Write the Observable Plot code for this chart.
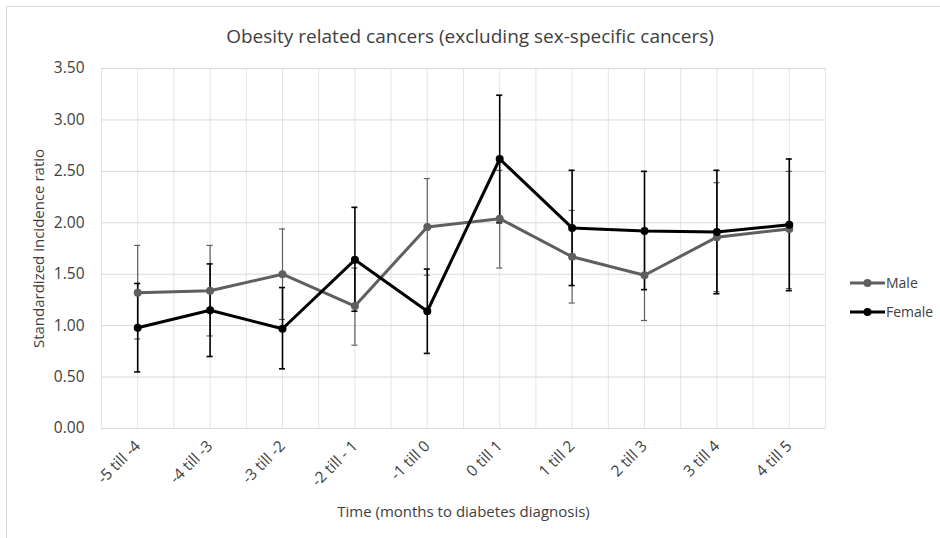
<!DOCTYPE html>
<html>
<head>
<meta charset="utf-8">
<script src="https://cdn.jsdelivr.net/npm/d3@7"></script>
<script src="https://cdn.jsdelivr.net/npm/@observablehq/plot@0.6"></script>
<style>
  html, body { margin: 0; padding: 0; background: #fff; }
  #wrap { position: relative; width: 940px; height: 538px; overflow: hidden; font-family: "Open Sans", sans-serif; }
  #frame { position: absolute; left: 6px; top: 6px; width: 960px; height: 560px; border: 1px solid #d9d9d9; box-sizing: border-box; pointer-events: none; }
  #title { position: absolute; left: 0; width: 940px; top: 23px; text-align: center; font-size: 19px; color: #404040; }
  #legend { position: absolute; left: 850px; top: 272px; font-size: 14px; color: #404040; }
  #legend .row { position: relative; height: 29px; }
  #legend svg { position: absolute; left: 0; top: 0; }
  #legend span { position: absolute; left: 36px; top: 1px; }
  #chart { position: absolute; left: 0; top: 0; }
</style>
</head>
<body>
<div id="wrap">
  <div id="frame"></div>
  <div id="chart"></div>
  <div id="title"></div>
  <div id="legend"></div>
</div>
<script>
const title = "Obesity related cancers (excluding sex-specific cancers)";
const yLabel = "Standardized incidence ratio";
const xLabel = "Time (months to diabetes diagnosis)";
const categories = ["-5 till -4", "-4 till -3", "-3 till -2", "-2 till - 1", "-1 till 0", "0 till 1", "1 till 2", "2 till 3", "3 till 4", "4 till 5"];
const seriesNames = ["Male", "Female"];
const seriesColors = ["#5f5f5f", "#000000"];
const maleSIR   = [1.32, 1.34, 1.50, 1.19, 1.96, 2.04, 1.67, 1.49, 1.86, 1.94];
const maleLower = [0.87, 0.90, 1.06, 0.81, 1.49, 1.56, 1.22, 1.05, 1.33, 1.36];
const maleUpper = [1.78, 1.78, 1.94, 1.56, 2.43, 2.51, 2.12, 1.93, 2.39, 2.50];
const femaleSIR   = [0.98, 1.15, 0.97, 1.64, 1.14, 2.62, 1.95, 1.92, 1.91, 1.98];
const femaleLower = [0.55, 0.70, 0.58, 1.14, 0.73, 2.00, 1.39, 1.35, 1.31, 1.34];
const femaleUpper = [1.41, 1.60, 1.37, 2.15, 1.55, 3.24, 2.51, 2.50, 2.51, 2.62];
const yTicks = [0, 0.5, 1, 1.5, 2, 2.5, 3, 3.5];

function build(vals, lo, hi, name) {
  return categories.map((c, i) => ({ cat: c, x: i + 0.5, v: vals[i], lo: lo[i], hi: hi[i], series: name }));
}
const male = build(maleSIR, maleLower, maleUpper, "Male");
const female = build(femaleSIR, femaleLower, femaleUpper, "Female");
const gridX = d3.range(0, categories.length + 0.01, 0.5);
const capHalf = 0.042;

function errMarks(data, color, w) {
  return [
    Plot.ruleX(data, { x: "x", y1: "lo", y2: "hi", stroke: color, strokeWidth: w }),
    Plot.ruleY(data, { y: "hi", x1: d => d.x - capHalf, x2: d => d.x + capHalf, stroke: color, strokeWidth: w }),
    Plot.ruleY(data, { y: "lo", x1: d => d.x - capHalf, x2: d => d.x + capHalf, stroke: color, strokeWidth: w })
  ];
}
function lineMarks(data, color) {
  return [
    Plot.line(data, { x: "x", y: "v", stroke: color, strokeWidth: 3, strokeLinejoin: "round" }),
    Plot.dot(data, { x: "x", y: "v", r: 4, fill: color, stroke: "none" })
  ];
}

const chart = Plot.plot({
  width: 940,
  height: 538,
  marginLeft: 101,
  marginRight: 115,
  marginTop: 68,
  marginBottom: 110,
  style: { fontFamily: "Open Sans, sans-serif", color: "#404040", background: "transparent" },
  x: { type: "linear", domain: [0, categories.length] },
  y: { domain: [0, 3.5] },
  marks: [
    Plot.ruleX(gridX, { stroke: "#e4e4e4", strokeWidth: 1 }),
    Plot.ruleY(yTicks, { stroke: "#d9d9d9", strokeWidth: 1 }),
    Plot.axisY({ ticks: yTicks, tickFormat: d => d.toFixed(2), tickSize: 0, tickPadding: 17, fontSize: 15.5, label: null }),
    Plot.axisX({ ticks: male.map(d => d.x), tickFormat: d => categories[Math.floor(d)], tickSize: 0, tickPadding: 15, tickRotate: -45, fontSize: 15.5, label: null }),
    Plot.text([yLabel], { frameAnchor: "left", textAnchor: "middle", dx: -62, rotate: -90, fontSize: 15, fill: "#404040" }),
    Plot.text([xLabel], { frameAnchor: "bottom", textAnchor: "middle", dy: 88, fontSize: 15, fill: "#404040" }),
    ...errMarks(male, seriesColors[0], 1.2),
    ...errMarks(female, seriesColors[1], 1.6),
    ...lineMarks(male, seriesColors[0]),
    ...lineMarks(female, seriesColors[1])
  ]
});
document.getElementById("chart").appendChild(chart);
document.getElementById("title").textContent = title;

const legend = document.getElementById("legend");
seriesNames.forEach((name, i) => {
  const row = document.createElement("div");
  row.className = "row";
  row.innerHTML = `<svg width="36" height="22"><line x1="0" x2="35" y1="11" y2="11" stroke="${seriesColors[i]}" stroke-width="3"/><circle cx="17.5" cy="11" r="4" fill="${seriesColors[i]}"/></svg><span>${name}</span>`;
  legend.appendChild(row);
});
</script>
</body>
</html>
